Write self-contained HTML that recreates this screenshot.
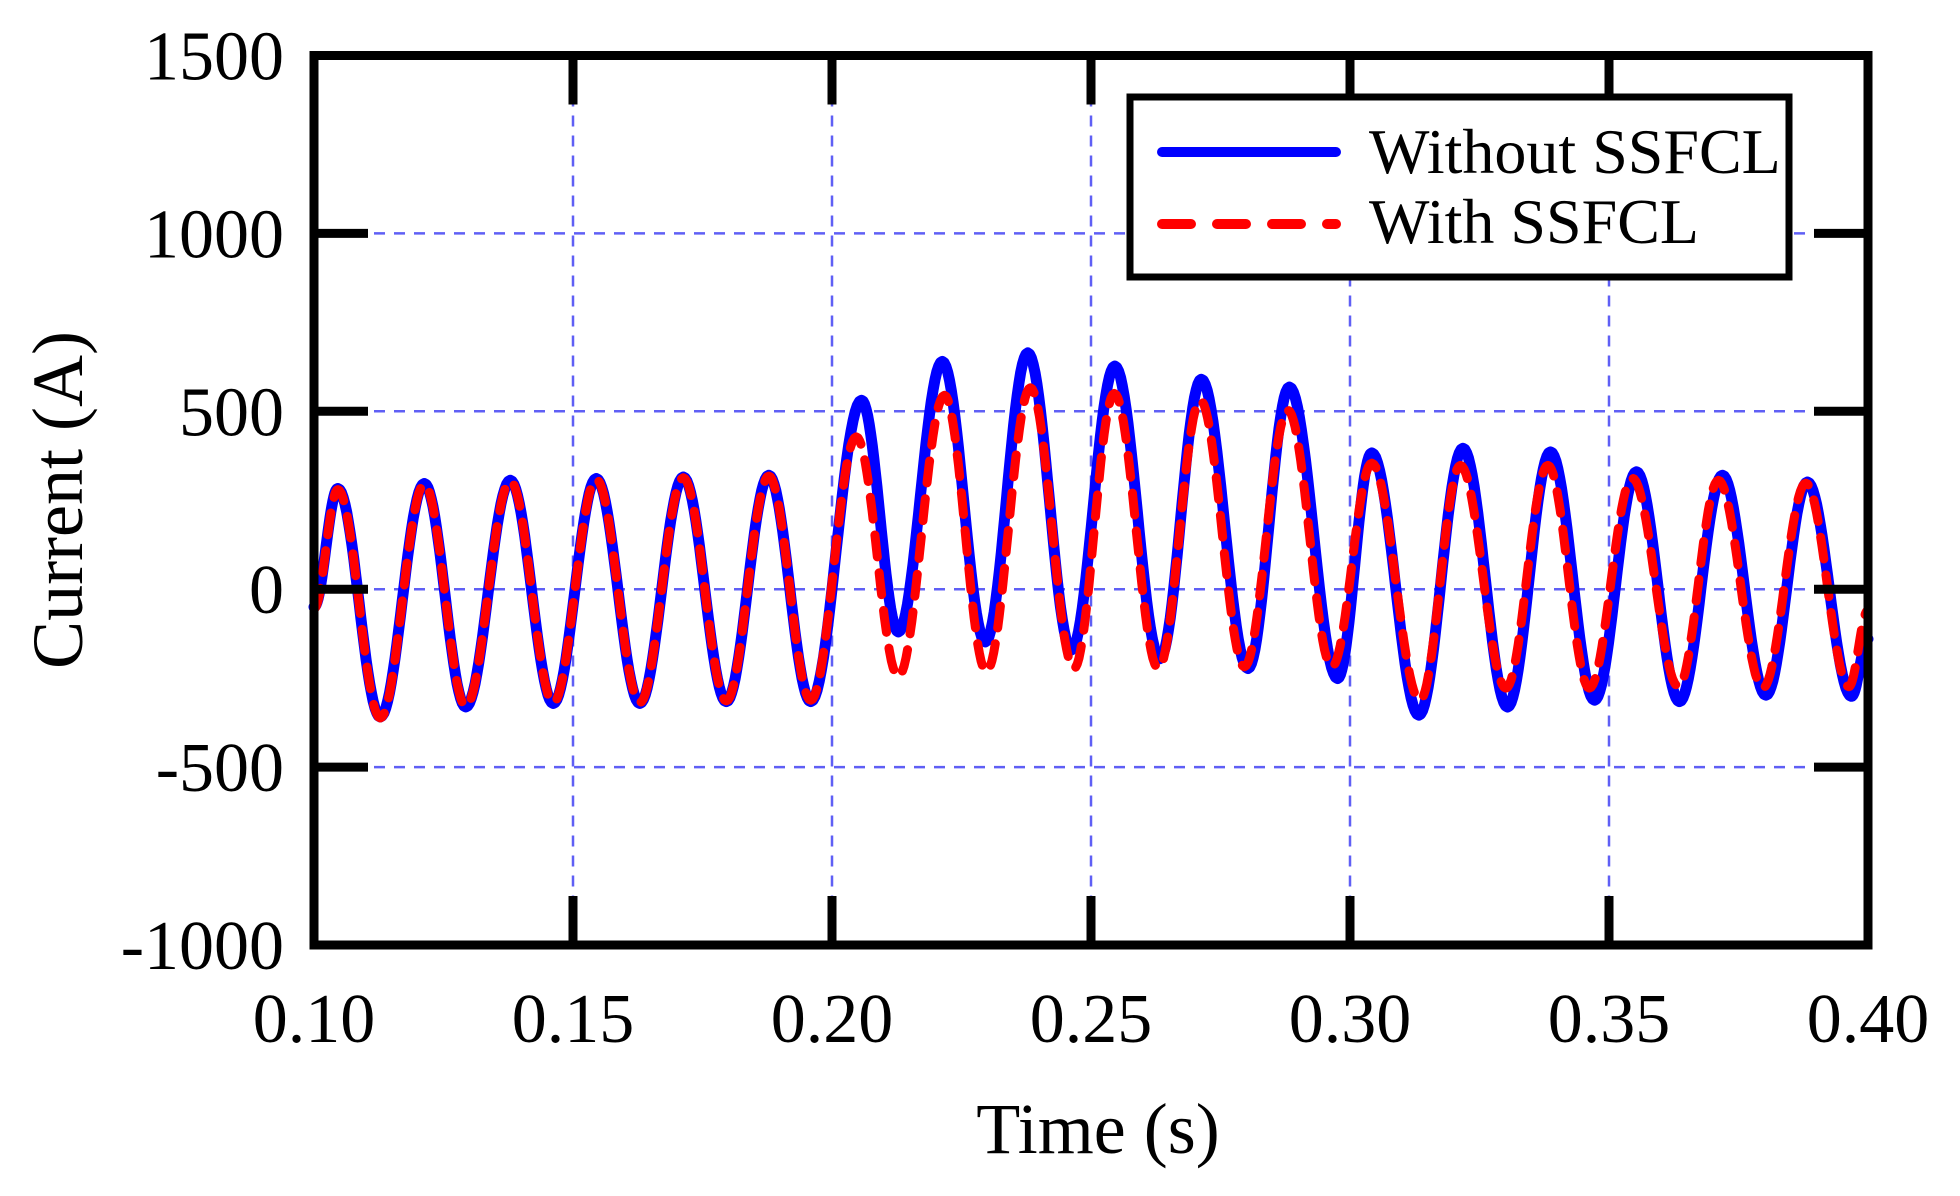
<!DOCTYPE html>
<html><head><meta charset="utf-8"><style>
html,body{margin:0;padding:0;background:#fff;}
svg{display:block;font-family:"Liberation Serif","Times New Roman",serif;}
</style></head><body>
<svg id="chart" width="1960" height="1196" viewBox="0 0 1960 1196" xmlns="http://www.w3.org/2000/svg">
<rect x="0" y="0" width="1960" height="1196" fill="#fff"/>
<g id="grid"></g>
<g id="series"></g>
<g id="frame"></g>
<g id="labels"></g>
<text x="1098" y="1153" font-size="72" text-anchor="middle">Time (s)</text>
<text transform="translate(82,500) rotate(-90)" font-size="72" text-anchor="middle">Current (A)</text>
<g>
<rect x="1130" y="97" width="659" height="180" fill="#fff" stroke="#000" stroke-width="7"/>
<line x1="1162" y1="152" x2="1336" y2="152" stroke="#0000ff" stroke-width="10" stroke-linecap="round"/>
<text x="1369" y="173" font-size="64">Without SSFCL</text>
<line x1="1162" y1="224" x2="1336" y2="224" stroke="#ff0000" stroke-width="10" stroke-linecap="round" stroke-dasharray="29 26"/>
<text x="1369" y="243" font-size="64">With SSFCL</text>
</g>
</svg>
<script>
// Data: extrema (time s, current A)
const withoutTimes = [0.1000,0.1046,0.1128,0.1213,0.1293,0.1379,0.1462,0.1545,0.1629,0.1713,0.1796,0.1878,0.1959,0.2057,0.2128,0.2213,0.2296,0.2378,0.2462,0.2546,0.2633,0.2713,0.2803,0.2883,0.2976,0.3042,0.3133,0.3218,0.3304,0.3387,0.3472,0.3553,0.3636,0.3719,0.3803,0.3883,0.3968,0.4000];
const withoutValues = [-50,283,-359,297,-331,306,-321,311,-321,315,-316,320,-316,531,-120,640,-148,664,-171,627,-195,590,-223,568,-251,383,-354,396,-331,386,-312,330,-316,320,-298,301,-301,-140];
const withTimes = [0.1000,0.1046,0.1128,0.1213,0.1293,0.1379,0.1462,0.1545,0.1629,0.1713,0.1796,0.1878,0.1959,0.2047,0.2128,0.2217,0.2298,0.2383,0.2467,0.2545,0.2630,0.2711,0.2796,0.2880,0.2965,0.3042,0.3135,0.3213,0.3301,0.3382,0.3462,0.3545,0.3634,0.3711,0.3797,0.3880,0.3963,0.4000];
const withValues = [-55,280,-362,295,-329,304,-319,309,-319,313,-314,318,-312,428,-246,545,-232,566,-223,550,-223,531,-218,503,-218,354,-312,348,-278,348,-278,312,-274,306,-278,298,-274,-59];
const xTicks = [0.10,0.15,0.20,0.25,0.30,0.35,0.40];
const xTickLabels = ["0.10","0.15","0.20","0.25","0.30","0.35","0.40"];
const yTicks = [-1000,-500,0,500,1000,1500];
const yTickLabels = ["-1000","-500","0","500","1000","1500"];

const L=314, R=1868, T=55.5, B=945;
const X0=0.10, X1=0.40, Y0=-1000, Y1=1500;
function sx(t){return L+(t-X0)/(X1-X0)*(R-L);}
function sy(v){return B-(v-Y0)/(Y1-Y0)*(B-T);}
const NS="http://www.w3.org/2000/svg";
function mk(tag,parent,attrs){const e=document.createElementNS(NS,tag);for(const k in attrs)e.setAttribute(k,attrs[k]);parent.appendChild(e);return e;}

const grid=document.getElementById('grid');
const frame=document.getElementById('frame');
const labels=document.getElementById('labels');
xTicks.forEach((t,i)=>{
  if(i>0&&i<xTicks.length-1){
    const g=mk('line',grid,{x1:sx(t),y1:T,x2:sx(t),y2:B,stroke:'#5f5ff5','stroke-width':2.5,'stroke-dasharray':'11 9'});
    
    
    const a=mk('line',frame,{x1:sx(t),y1:B,x2:sx(t),y2:B-49,stroke:'#000','stroke-width':9});
    
    
    const b=mk('line',frame,{x1:sx(t),y1:T,x2:sx(t),y2:T+49,stroke:'#000','stroke-width':9});
    
    
  }
  const tx=mk('text',labels,{x:sx(t),y:B+97,'font-size':70,'text-anchor':'middle'});
  tx.textContent=xTickLabels[i];
  
  
});
yTicks.forEach((v,i)=>{
  if(i>0&&i<yTicks.length-1){
    const g=mk('line',grid,{x1:L,y1:sy(v),x2:R,y2:sy(v),stroke:'#5f5ff5','stroke-width':2.5,'stroke-dasharray':'11 9'});
    
    
    const a=mk('line',frame,{x1:L,y1:sy(v),x2:L+54,y2:sy(v),stroke:'#000','stroke-width':9});
    
    
    const b=mk('line',frame,{x1:R,y1:sy(v),x2:R-54,y2:sy(v),stroke:'#000','stroke-width':9});
    
    
  }
  const tx=mk('text',labels,{x:284,y:sy(v)+24,'font-size':70,'text-anchor':'end'});
  tx.textContent=yTickLabels[i];
  
  
});
const fr=mk('rect',frame,{x:L,y:T,width:R-L,height:B-T,fill:'none',stroke:'#000','stroke-width':9});



function pathFrom(ts,vs){
  let d='M'+sx(ts[0]).toFixed(1)+' '+sy(vs[0]).toFixed(1);
  for(let i=0;i<ts.length-1;i++){
    const n=24;
    for(let k=1;k<=n;k++){
      const s=k/n, t=ts[i]+(ts[i+1]-ts[i])*s;
      const v=vs[i]+(vs[i+1]-vs[i])*(1-Math.cos(Math.PI*s))/2;
      d+=' L'+sx(t).toFixed(1)+' '+sy(v).toFixed(1);
    }
  }
  return d;
}
const series=document.getElementById('series');
const p1=mk('path',series,{d:pathFrom(withoutTimes,withoutValues),fill:'none',stroke:'#0000ff','stroke-width':11,'stroke-linejoin':'round','stroke-linecap':'round'});


const p2=mk('path',series,{d:pathFrom(withTimes,withValues),fill:'none',stroke:'#ff0000','stroke-width':9,'stroke-linejoin':'round','stroke-linecap':'round','stroke-dasharray':'22 16'});


</script>
</body></html>
